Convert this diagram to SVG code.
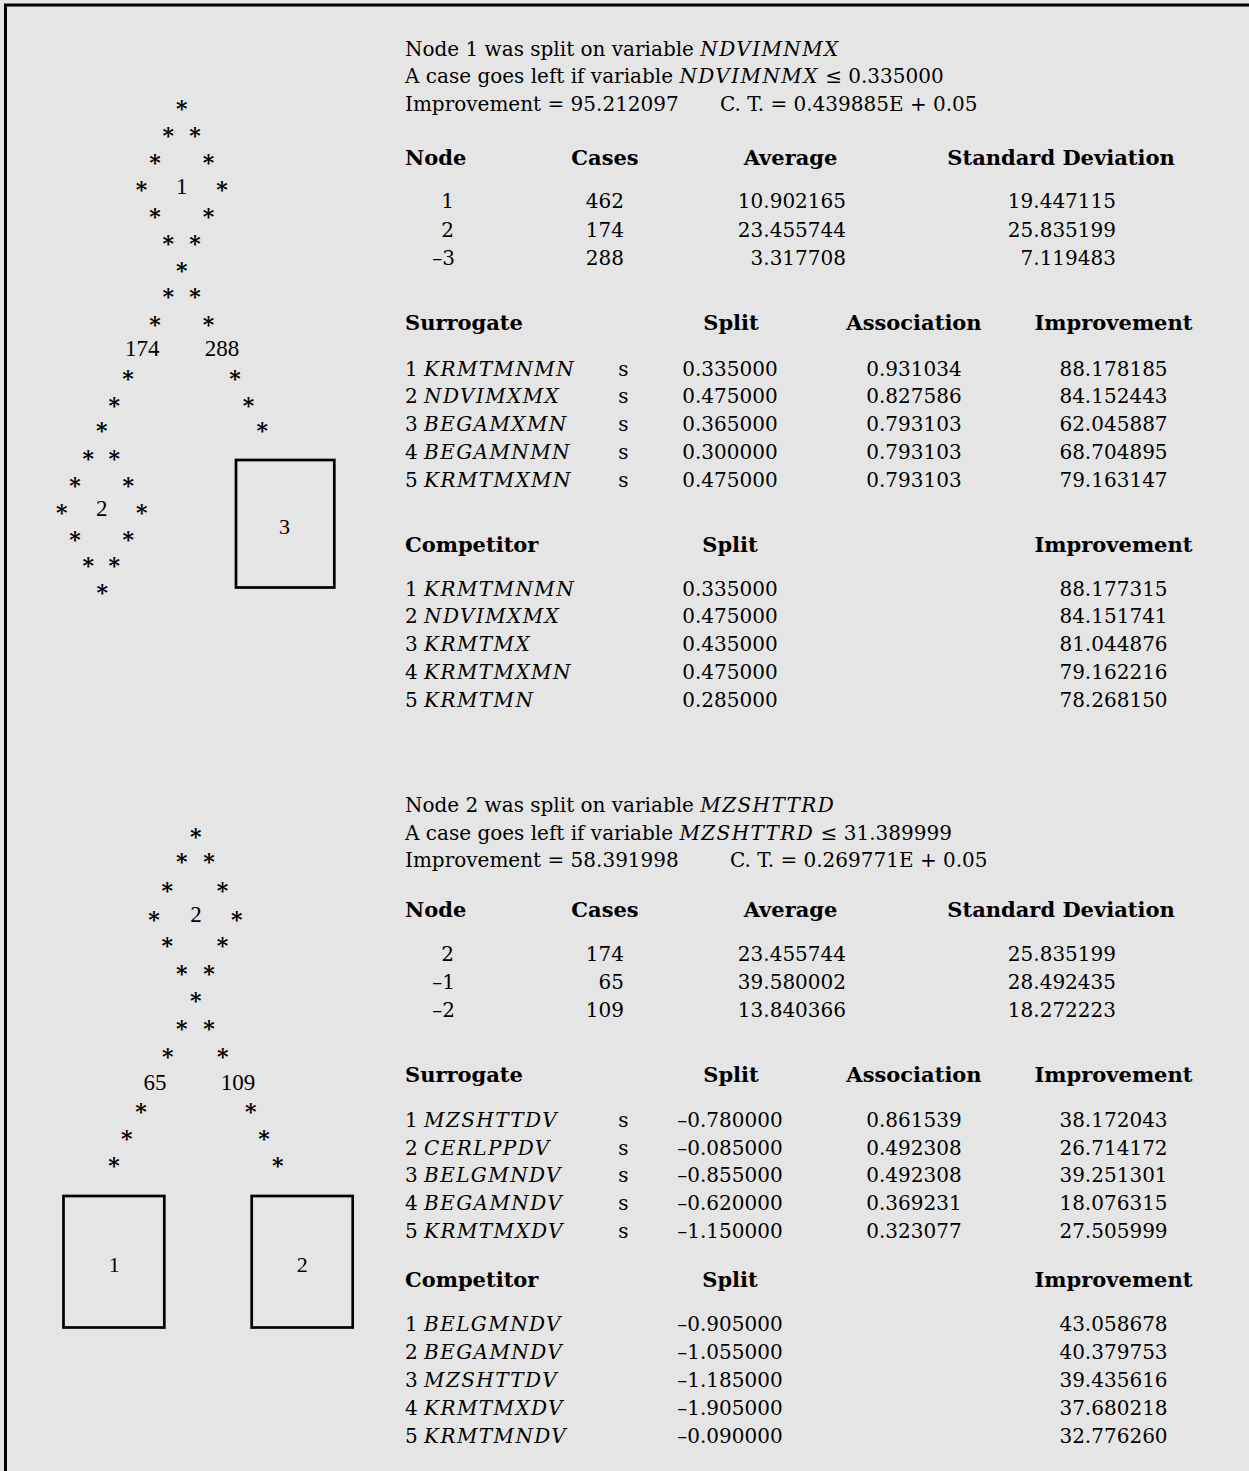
<svg xmlns="http://www.w3.org/2000/svg" width="1249" height="1471" viewBox="0 0 1249 1471">
<style>
text{font-family:"DejaVu Serif","Liberation Serif",serif;font-size:20px;fill:#000}
.b{font-weight:bold;font-size:21px}
.i{font-style:italic;letter-spacing:1.4px}
.m{text-anchor:middle}
.e{text-anchor:end}
.st{font-family:"DejaVu Serif",serif;font-size:22px;font-weight:bold;text-anchor:middle}
.lab{font-family:"Liberation Serif",serif;font-size:23px;text-anchor:middle}
.box{fill:none;stroke:#000;stroke-width:2.7}
.frame{stroke:#000;stroke-width:3;fill:none}
</style>
<rect x="0" y="0" width="1249" height="1471" fill="#e5e5e5"/>
<path class="frame" d="M5.5 1471V5H1249"/>

<g id="tree1">
 <g id="t1-node1">
  <text class="st" x="181.7" y="116.3">*</text>
  <text class="st" x="168.3 195.1" y="142.9">**</text>
  <text class="st" x="154.9 208.5" y="170.1">**</text>
  <text class="st" x="141.5" y="197.3">*</text>
  <text class="st" x="221.9" y="197.3">*</text>
  <text class="lab" x="181.7" y="193.7">1</text>
  <text class="st" x="154.9 208.5" y="224.2">**</text>
  <text class="st" x="168.3 195.1" y="251.3">**</text>
  <text class="st" x="181.7" y="277.6">*</text>
 </g>
 <g id="t1-connectors">
  <text class="st" x="168.3 195.1" y="304.1">**</text>
  <text class="st" x="154.9 208.5" y="331.6">**</text>
  <text class="lab" x="142.3" y="355.6">174</text>
  <text class="lab" x="222" y="355.6">288</text>
  <text class="st" x="128 235" y="386">**</text>
  <text class="st" x="114.3 248.5" y="412.5">**</text>
  <text class="st" x="101.7 262.3" y="438.3">**</text>
 </g>
 <g id="t1-node2">
  <text class="st" x="88.3 114.3" y="465.9">**</text>
  <text class="st" x="75 128.3" y="492.8">**</text>
  <text class="st" x="61.7" y="520.3">*</text>
  <text class="st" x="141.7" y="520.3">*</text>
  <text class="lab" x="101.7" y="515.7">2</text>
  <text class="st" x="75 128.3" y="546.8">**</text>
  <text class="st" x="88.3 114.3" y="573.3">**</text>
  <text class="st" x="102.3" y="599.5">*</text>
 </g>
 <g id="t1-term3">
  <rect class="box" x="236" y="460" width="98.3" height="127.5"/>
  <text class="lab" x="284.5" y="533.5" style="font-size:22px">3</text>
 </g>
</g>

<g id="tree2">
 <g id="t2-node2">
  <text class="st" x="195.7" y="843.7">*</text>
  <text class="st" x="181.7 209" y="869.4">**</text>
  <text class="st" x="167.3 222.5" y="898">**</text>
  <text class="st" x="154" y="926.6">*</text>
  <text class="st" x="236.7" y="926.6">*</text>
  <text class="lab" x="196" y="922">2</text>
  <text class="st" x="167.3 222.5" y="953.3">**</text>
  <text class="st" x="181.7 209" y="980.9">**</text>
  <text class="st" x="195.7" y="1008">*</text>
 </g>
 <g id="t2-connectors">
  <text class="st" x="181.7 209" y="1036.2">**</text>
  <text class="st" x="167.7 222.7" y="1064.1">**</text>
  <text class="lab" x="155" y="1089.7">65</text>
  <text class="lab" x="238" y="1089.7">109</text>
  <text class="st" x="141 250.7" y="1119.3">**</text>
  <text class="st" x="126.7 264" y="1146.3">**</text>
  <text class="st" x="114 277.7" y="1173">**</text>
 </g>
 <g id="t2-term1">
  <rect class="box" x="63.5" y="1196" width="100.8" height="131.5"/>
  <text class="lab" x="114.3" y="1271.5" style="font-size:22px">1</text>
 </g>
 <g id="t2-term2">
  <rect class="box" x="251.7" y="1196" width="101" height="131.5"/>
  <text class="lab" x="302.3" y="1271.5" style="font-size:22px">2</text>
 </g>
</g>

<g id="split1">
 <text x="405" y="55.6">Node 1 was split on variable <tspan class="i">NDVIMNMX</tspan></text>
 <text x="405" y="83">A case goes left if variable <tspan class="i">NDVIMNMX</tspan> ≤ 0.335000</text>
 <text x="405" y="110.6">Improvement = 95.212097</text>
 <text x="720" y="110.6">C. T. = 0.439885E + 0.05</text>
 <text class="b" x="405" y="164.6">Node</text>
 <text class="b m" x="605" y="164.6">Cases</text>
 <text class="b m" x="790.5" y="164.6">Average</text>
 <text class="b m" x="1061" y="164.6">Standard Deviation</text>
 <text class="e" x="454" y="208">1</text>
 <text class="e" x="454" y="236.6">2</text>
 <text class="e" x="455" y="265">–3</text>
 <text class="e" x="624" y="208">462</text>
 <text class="e" x="624" y="236.6">174</text>
 <text class="e" x="624" y="265">288</text>
 <text class="e" x="846" y="208">10.902165</text>
 <text class="e" x="846" y="236.6">23.455744</text>
 <text class="e" x="846" y="265">3.317708</text>
 <text class="e" x="1116" y="208">19.447115</text>
 <text class="e" x="1116" y="236.6">25.835199</text>
 <text class="e" x="1116" y="265">7.119483</text>

 <text class="b" x="405" y="330">Surrogate</text>
 <text class="b m" x="731" y="330">Split</text>
 <text class="b m" x="914" y="330">Association</text>
 <text class="b m" x="1113.5" y="330">Improvement</text>
 <text x="405" y="375.6">1 <tspan class="i">KRMTMNMN</tspan></text>
 <text x="405" y="403.4">2 <tspan class="i">NDVIMXMX</tspan></text>
 <text x="405" y="431.2">3 <tspan class="i">BEGAMXMN</tspan></text>
 <text x="405" y="459">4 <tspan class="i">BEGAMNMN</tspan></text>
 <text x="405" y="486.8">5 <tspan class="i">KRMTMXMN</tspan></text>
 <text class="m" x="623.5" y="375.6">s</text>
 <text class="m" x="623.5" y="403.4">s</text>
 <text class="m" x="623.5" y="431.2">s</text>
 <text class="m" x="623.5" y="459">s</text>
 <text class="m" x="623.5" y="486.8">s</text>
 <text class="m" x="730" y="375.6">0.335000</text>
 <text class="m" x="730" y="403.4">0.475000</text>
 <text class="m" x="730" y="431.2">0.365000</text>
 <text class="m" x="730" y="459">0.300000</text>
 <text class="m" x="730" y="486.8">0.475000</text>
 <text class="m" x="914" y="375.6">0.931034</text>
 <text class="m" x="914" y="403.4">0.827586</text>
 <text class="m" x="914" y="431.2">0.793103</text>
 <text class="m" x="914" y="459">0.793103</text>
 <text class="m" x="914" y="486.8">0.793103</text>
 <text class="m" x="1113.5" y="375.6">88.178185</text>
 <text class="m" x="1113.5" y="403.4">84.152443</text>
 <text class="m" x="1113.5" y="431.2">62.045887</text>
 <text class="m" x="1113.5" y="459">68.704895</text>
 <text class="m" x="1113.5" y="486.8">79.163147</text>

 <text class="b" x="405" y="552.3">Competitor</text>
 <text class="b m" x="730" y="552.3">Split</text>
 <text class="b m" x="1113.5" y="552.3">Improvement</text>
 <text x="405" y="595.6">1 <tspan class="i">KRMTMNMN</tspan></text>
 <text x="405" y="623.4">2 <tspan class="i">NDVIMXMX</tspan></text>
 <text x="405" y="651.2">3 <tspan class="i">KRMTMX</tspan></text>
 <text x="405" y="679">4 <tspan class="i">KRMTMXMN</tspan></text>
 <text x="405" y="706.8">5 <tspan class="i">KRMTMN</tspan></text>
 <text class="m" x="730" y="595.6">0.335000</text>
 <text class="m" x="730" y="623.4">0.475000</text>
 <text class="m" x="730" y="651.2">0.435000</text>
 <text class="m" x="730" y="679">0.475000</text>
 <text class="m" x="730" y="706.8">0.285000</text>
 <text class="m" x="1113.5" y="595.6">88.177315</text>
 <text class="m" x="1113.5" y="623.4">84.151741</text>
 <text class="m" x="1113.5" y="651.2">81.044876</text>
 <text class="m" x="1113.5" y="679">79.162216</text>
 <text class="m" x="1113.5" y="706.8">78.268150</text>
</g>

<g id="split2">
 <text x="405" y="812.3">Node 2 was split on variable <tspan class="i">MZSHTTRD</tspan></text>
 <text x="405" y="839.8">A case goes left if variable <tspan class="i">MZSHTTRD</tspan> ≤ 31.389999</text>
 <text x="405" y="867.3">Improvement = 58.391998</text>
 <text x="730" y="867.3">C. T. = 0.269771E + 0.05</text>
 <text class="b" x="405" y="917.3">Node</text>
 <text class="b m" x="605" y="917.3">Cases</text>
 <text class="b m" x="790.5" y="917.3">Average</text>
 <text class="b m" x="1061" y="917.3">Standard Deviation</text>
 <text class="e" x="454" y="961.3">2</text>
 <text class="e" x="455" y="989.3">–1</text>
 <text class="e" x="455" y="1017.3">–2</text>
 <text class="e" x="624" y="961.3">174</text>
 <text class="e" x="624" y="989.3">65</text>
 <text class="e" x="624" y="1017.3">109</text>
 <text class="e" x="846" y="961.3">23.455744</text>
 <text class="e" x="846" y="989.3">39.580002</text>
 <text class="e" x="846" y="1017.3">13.840366</text>
 <text class="e" x="1116" y="961.3">25.835199</text>
 <text class="e" x="1116" y="989.3">28.492435</text>
 <text class="e" x="1116" y="1017.3">18.272223</text>

 <text class="b" x="405" y="1082.3">Surrogate</text>
 <text class="b m" x="731" y="1082.3">Split</text>
 <text class="b m" x="914" y="1082.3">Association</text>
 <text class="b m" x="1113.5" y="1082.3">Improvement</text>
 <text x="405" y="1127.3">1 <tspan class="i">MZSHTTDV</tspan></text>
 <text x="405" y="1154.5">2 <tspan class="i">CERLPPDV</tspan></text>
 <text x="405" y="1182">3 <tspan class="i">BELGMNDV</tspan></text>
 <text x="405" y="1210">4 <tspan class="i">BEGAMNDV</tspan></text>
 <text x="405" y="1238">5 <tspan class="i">KRMTMXDV</tspan></text>
 <text class="m" x="623.5" y="1127.3">s</text>
 <text class="m" x="623.5" y="1154.5">s</text>
 <text class="m" x="623.5" y="1182">s</text>
 <text class="m" x="623.5" y="1210">s</text>
 <text class="m" x="623.5" y="1238">s</text>
 <text class="m" x="730" y="1127.3">–0.780000</text>
 <text class="m" x="730" y="1154.5">–0.085000</text>
 <text class="m" x="730" y="1182">–0.855000</text>
 <text class="m" x="730" y="1210">–0.620000</text>
 <text class="m" x="730" y="1238">–1.150000</text>
 <text class="m" x="914" y="1127.3">0.861539</text>
 <text class="m" x="914" y="1154.5">0.492308</text>
 <text class="m" x="914" y="1182">0.492308</text>
 <text class="m" x="914" y="1210">0.369231</text>
 <text class="m" x="914" y="1238">0.323077</text>
 <text class="m" x="1113.5" y="1127.3">38.172043</text>
 <text class="m" x="1113.5" y="1154.5">26.714172</text>
 <text class="m" x="1113.5" y="1182">39.251301</text>
 <text class="m" x="1113.5" y="1210">18.076315</text>
 <text class="m" x="1113.5" y="1238">27.505999</text>

 <text class="b" x="405" y="1287.3">Competitor</text>
 <text class="b m" x="730" y="1287.3">Split</text>
 <text class="b m" x="1113.5" y="1287.3">Improvement</text>
 <text x="405" y="1331.3">1 <tspan class="i">BELGMNDV</tspan></text>
 <text x="405" y="1359.3">2 <tspan class="i">BEGAMNDV</tspan></text>
 <text x="405" y="1387.3">3 <tspan class="i">MZSHTTDV</tspan></text>
 <text x="405" y="1415.3">4 <tspan class="i">KRMTMXDV</tspan></text>
 <text x="405" y="1443">5 <tspan class="i">KRMTMNDV</tspan></text>
 <text class="m" x="730" y="1331.3">–0.905000</text>
 <text class="m" x="730" y="1359.3">–1.055000</text>
 <text class="m" x="730" y="1387.3">–1.185000</text>
 <text class="m" x="730" y="1415.3">–1.905000</text>
 <text class="m" x="730" y="1443">–0.090000</text>
 <text class="m" x="1113.5" y="1331.3">43.058678</text>
 <text class="m" x="1113.5" y="1359.3">40.379753</text>
 <text class="m" x="1113.5" y="1387.3">39.435616</text>
 <text class="m" x="1113.5" y="1415.3">37.680218</text>
 <text class="m" x="1113.5" y="1443">32.776260</text>
</g>
</svg>
